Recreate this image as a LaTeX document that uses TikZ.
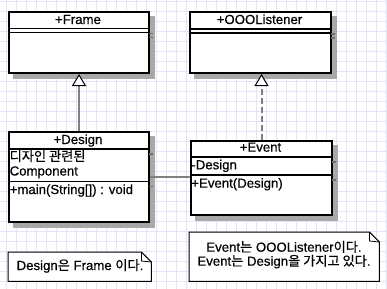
\documentclass[tikz,border=0pt]{standalone}
\usepackage{fontspec}
\setmainfont{Liberation Sans}[FakeBold=0.5]
\newfontfamily\kr{Noto Sans CJK KR}[FakeBold=0.3]
\usetikzlibrary{arrows.meta}
\newcommand\ko[1]{{\kr #1}}

\definecolor{gridc}{HTML}{E4E4F8}
\definecolor{shadowgray}{HTML}{A8A8A8}
\definecolor{shadowline}{HTML}{707070}
\definecolor{linkgray}{HTML}{808080}

\pgfdeclarelayer{back}
\pgfsetlayers{back,main}

\begin{document}
\begin{tikzpicture}[x=1bp,y=-1bp,
  every node/.style={font=\fontsize{13.2bp}{14bp}\selectfont, inner sep=0pt},
  classbox/.style={draw=black, line width=2bp, fill=white, anchor=north west},
  sepline/.style={draw=black, line width=1.5bp},
  shadowsep/.style={draw=shadowline, line width=1.5bp},
  link/.style={draw=linkgray, line width=2bp},
  inherit/.style={-{Triangle[length=12bp, width=14bp, fill=white, color=black, line width=1bp]}},
  realize/.style={inherit, dash pattern=on 6bp off 3bp},
  notebox/.style={minimum width=#1, inner sep=0pt},
  noteline/.style={draw=black, line width=1bp, fill=white},
  title/.style={anchor=base},
  member/.style={anchor=base west}]

\useasboundingbox (0,0) rectangle (387,289);

% background grid
\begin{pgfonlayer}{back}
  \fill[white] (0,0) rectangle (387,289);
  \foreach \gx in {6.7,16.7,...,386.7}
    \draw[gridc, line width=0.8bp] (\gx,0) -- (\gx,289);
  \foreach \gy in {1.7,11.7,...,281.7}
    \draw[gridc, line width=0.8bp] (0,\gy) -- (387,\gy);
\end{pgfonlayer}

% class boxes
\node[classbox, minimum width=140bp, minimum height=61bp] (frame) at (8,11) {};
\node[classbox, minimum width=141bp, minimum height=61bp] (ooo) at (189,11) {};
\node[classbox, minimum width=140bp, minimum height=90bp] (design) at (8,131) {};
\node[classbox, minimum width=141bp, minimum height=74bp] (event) at (190,139.5) {};

% drop shadows
\begin{pgfonlayer}{back}
  \foreach \b in {frame,ooo,design,event}
    \fill[shadowgray] ([xshift=5bp,yshift=-5bp]\b.north west) rectangle ([xshift=5bp,yshift=-5bp]\b.south east);
\end{pgfonlayer}

% compartment separators
\draw[sepline] (8,28.5) -- (148,28.5) (8,32.5) -- (148,32.5);
\draw[sepline] (189,29) -- (330,29) (189,33) -- (330,33);
\draw[sepline] (8,149) -- (148,149) (8,181.5) -- (148,181.5);
\draw[sepline] (190,157) -- (331,157) (190,175) -- (331,175);
\draw[shadowsep] (149,33.5) -- (153,33.5) (149,37.5) -- (153,37.5);
\draw[shadowsep] (331,34) -- (335,34) (331,38) -- (335,38);
\draw[shadowsep] (149,154) -- (153,154) (149,186.5) -- (153,186.5);
\draw[shadowsep] (332,162) -- (336,162) (332,180) -- (336,180);

% class names
\node[title] (frameName) at (78,24) {+Frame};
\node[title] (oooName) at (259.5,24) {+OOOListener};
\node[title] (designName) at (78,144) {+Design};
\node[title] (eventName) at (260.5,151.7) {+Event};

% members
\node[member] (designAttr1) at (9.5,161) {\ko{디자인 관련된}};
\node[member] (designAttr2) at (9.5,175.5) {Component};
\node[member] (designOp) at (9.5,194) {+main(String[]) : void};
\node[member] (eventAttr) at (191.2,169.3) {-Design};
\node[member] (eventOp) at (191.2,187.7) {+Event(Design)};

% relations
\draw[link, inherit] (design.north) -- (frame.south);
\draw[link, realize] (event.north) -- (event.north |- ooo.south);
\draw[link] (design.east) -- (design.east -| event.west);

% notes
\node[notebox=143bp, minimum height=29bp, anchor=north west] (note1) at (8,252) {};
\node[notebox=190bp, minimum height=49bp, anchor=north west] (note2) at (189,232) {};
\begin{pgfonlayer}{back}
  \foreach \n in {note1,note2}{
    \draw[noteline] (\n.north west) -- ([xshift=-10bp]\n.north east)
      -- ([yshift=-10bp]\n.north east) -- (\n.south east) -- (\n.south west) -- cycle;
    \draw[line width=0.8bp] ([xshift=-10bp]\n.north east) -- ([xshift=-10bp,yshift=-9bp]\n.north east)
      -- ([yshift=-10bp]\n.north east);
  }
\end{pgfonlayer}
\node[title] (note1Text) at (80,270) {Design\ko{은} Frame \ko{이다}.};
\node[title] (note2Text1) at (284,251.7) {Event\ko{는} OOOListener\ko{이다}.};
\node[title] (note2Text2) at (284,265.7) {Event\ko{는} Design\ko{을 가지고 있다}.};

\end{tikzpicture}
\end{document}
